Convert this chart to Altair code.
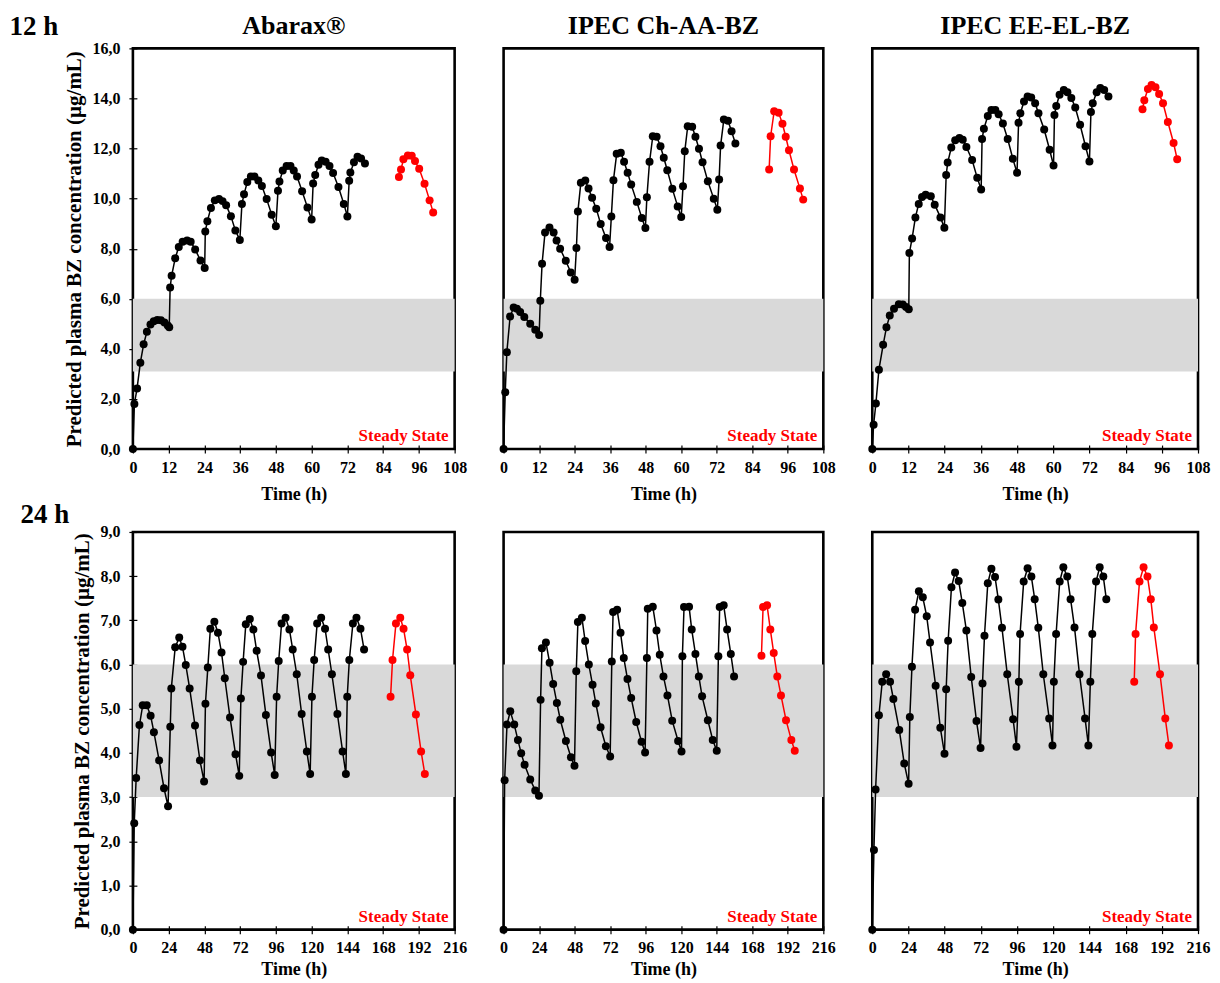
import altair as alt
import pandas as pd

FONT = "Liberation Serif"
Y_TITLE = "Predicted plasma BZ concentration (µg/mL)"
X_TITLE = "Time (h)"
SS_LABEL = "Steady State"
COL_TITLES = ["Abarax®", "IPEC Ch-AA-BZ", "IPEC EE-EL-BZ"]
ROW_LABELS = ["12 h", "24 h"]

X_TICKS_12 = [0, 12, 24, 36, 48, 60, 72, 84, 96, 108]
X_TICKS_24 = [0, 24, 48, 72, 96, 120, 144, 168, 192, 216]
Y_TICKS_12 = [0, 2, 4, 6, 8, 10, 12, 14, 16]
Y_TICKS_24 = [0, 1, 2, 3, 4, 5, 6, 7, 8, 9]
BAND_12 = [3.1, 6.0]
BAND_24 = [3.0, 6.0]

# ---------------- 12 h : Abarax ----------------
A12_T = [0, 0.5, 1.4, 2.5, 3.6, 4.7, 5.9, 7.0, 8.2, 9.4, 10.6, 11.7, 12.2,
         12.5, 13.0, 14.2, 15.4, 16.7, 18.2, 19.4, 20.9, 22.7, 24.1,
         24.3, 25.0, 26.2, 27.5, 28.9, 30.1, 31.3, 32.9, 34.4, 35.9,
         36.6, 37.3, 38.4, 39.6, 40.8, 42.1, 43.3, 44.9, 46.6, 48.0,
         48.7, 49.2, 50.3, 51.6, 52.9, 54.0, 55.1, 56.8, 58.6, 60.0,
         60.5, 61.2, 62.3, 63.4, 64.7, 66.0, 67.2, 69.0, 70.8, 72.0,
         72.6, 73.0, 74.2, 75.4, 76.6, 77.9]
A12_C = [0, 1.80, 2.42, 3.45, 4.18, 4.68, 4.97, 5.10, 5.15, 5.14, 5.05, 4.93, 4.86,
         6.45, 6.92, 7.62, 8.07, 8.28, 8.33, 8.28, 7.97, 7.53, 7.23,
         8.69, 9.10, 9.63, 9.93, 9.98, 9.90, 9.74, 9.30, 8.73, 8.35,
         9.79, 10.17, 10.66, 10.88, 10.88, 10.72, 10.50, 9.98, 9.36, 8.90,
         10.31, 10.68, 11.12, 11.30, 11.30, 11.12, 10.88, 10.29, 9.65, 9.17,
         10.60, 10.94, 11.35, 11.52, 11.47, 11.30, 11.02, 10.46, 9.79, 9.29,
         10.71, 11.04, 11.45, 11.67, 11.60, 11.40]
A12_SS_T = [89.3, 90.0, 90.8, 92.3, 93.6, 94.7, 96.1, 97.9, 99.6, 100.8]
A12_SS_C = [10.86, 11.16, 11.57, 11.72, 11.71, 11.50, 11.19, 10.59, 9.93, 9.45]

# ---------------- 12 h : IPEC Ch-AA-BZ ----------------
C12_T = [0, 0.56, 1.1, 2.2, 3.4, 4.5, 5.6, 7.0, 9.0, 10.7, 12.0,
         12.4, 13.0, 14.0, 15.5, 16.9, 17.9, 19.1, 21.0, 22.7, 24.0,
         24.6, 25.1, 26.1, 27.6, 28.7, 29.9, 31.3, 32.8, 34.6, 35.8,
         36.4, 37.1, 38.2, 39.6, 40.7, 41.9, 43.1, 45.0, 46.7, 47.9,
         48.4, 49.3, 50.4, 51.7, 53.0, 54.1, 55.3, 57.0, 58.8, 60.0,
         60.6, 61.2, 62.2, 63.7, 64.8, 66.0, 67.2, 69.0, 71.0, 72.2,
         72.8, 73.3, 74.4, 75.8, 77.0, 78.3]
C12_C = [0, 2.27, 3.87, 5.29, 5.65, 5.60, 5.47, 5.27, 5.00, 4.76, 4.55,
         5.92, 7.40, 8.65, 8.85, 8.65, 8.33, 8.00, 7.52, 7.05, 6.76,
         8.03, 9.49, 10.63, 10.72, 10.40, 10.03, 9.60, 8.99, 8.43, 8.07,
         9.29, 10.73, 11.79, 11.83, 11.47, 11.03, 10.56, 9.87, 9.23, 8.83,
         10.05, 11.47, 12.49, 12.47, 12.09, 11.63, 11.13, 10.39, 9.69, 9.27,
         10.49, 11.89, 12.89, 12.87, 12.47, 11.99, 11.45, 10.69, 9.99, 9.56,
         10.76, 12.12, 13.16, 13.11, 12.69, 12.20]
C12_SS_T = [89.7, 90.2, 91.4, 92.9, 94.2, 95.3, 96.4, 98.1, 100.1, 101.2]
C12_SS_C = [11.16, 12.49, 13.49, 13.43, 12.99, 12.47, 11.93, 11.16, 10.40, 9.96]

# ---------------- 12 h : IPEC EE-EL-BZ ----------------
E12_T = [0, 0.44, 1.2, 2.2, 3.6, 4.7, 5.8, 7.2, 8.8, 10.1, 11.2, 12.1,
         12.3, 13.2, 14.3, 15.4, 16.5, 17.7, 19.4, 20.7, 22.6, 23.9,
         24.5, 25.0, 26.2, 27.5, 28.9, 30.0, 31.2, 33.1, 34.8, 36.1,
         36.4, 37.0, 38.3, 39.5, 40.8, 41.9, 43.3, 44.9, 46.6, 48.0,
         48.5, 49.1, 50.3, 51.5, 52.7, 54.0, 55.1, 57.0, 58.8, 60.1,
         60.4, 61.0, 62.1, 63.5, 64.7, 66.0, 67.3, 68.9, 70.7, 72.0,
         72.5, 73.1, 74.4, 75.6, 76.9, 78.3]
E12_C = [0, 0.97, 1.82, 3.17, 4.16, 4.86, 5.33, 5.60, 5.78, 5.77, 5.67, 5.58,
         7.83, 8.41, 9.25, 9.79, 10.06, 10.15, 10.09, 9.76, 9.25, 8.84,
         10.94, 11.44, 12.04, 12.33, 12.42, 12.35, 12.06, 11.54, 10.83, 10.36,
         12.38, 12.79, 13.30, 13.54, 13.54, 13.37, 13.00, 12.38, 11.59, 11.03,
         13.03, 13.41, 13.88, 14.08, 14.04, 13.81, 13.41, 12.76, 11.95, 11.32,
         13.34, 13.70, 14.15, 14.34, 14.25, 14.02, 13.64, 12.95, 12.09, 11.48,
         13.46, 13.81, 14.25, 14.42, 14.34, 14.08]
E12_SS_T = [89.6, 90.2, 91.4, 92.6, 93.9, 95.1, 96.4, 98.0, 99.9, 101.1]
E12_SS_C = [13.57, 13.93, 14.38, 14.54, 14.45, 14.18, 13.81, 13.06, 12.22, 11.57]

# ---------------- 24 h : Abarax ----------------
A24_T = [0, 0.9, 2.2, 4.4, 6.6, 9.3, 11.9, 14.1, 17.6, 20.9, 23.6,
         25.1, 25.8, 28.4, 31.1, 33.3, 35.5, 38.1, 41.7, 45.0, 47.8,
         48.7, 50.3, 52.0, 54.7, 57.1, 59.5, 61.7, 65.2, 68.9, 71.4,
         72.5, 74.0, 75.8, 78.5, 80.9, 83.1, 86.0, 89.3, 92.8, 95.2,
         96.5, 97.9, 99.8, 102.5, 105.1, 107.3, 110.0, 113.3, 116.8, 119.0,
         120.2, 121.7, 123.7, 126.4, 129.0, 131.1, 133.6, 137.3, 140.8, 143.0,
         143.9, 145.3, 147.7, 150.1, 152.8, 155.2]
A24_C = [0, 2.41, 3.43, 4.63, 5.08, 5.08, 4.84, 4.47, 3.83, 3.20, 2.79,
         4.59, 5.46, 6.39, 6.61, 6.40, 5.99, 5.46, 4.62, 3.83, 3.35,
         5.11, 5.93, 6.81, 6.97, 6.72, 6.27, 5.69, 4.80, 3.97, 3.48,
         5.23, 6.06, 6.91, 7.03, 6.79, 6.31, 5.75, 4.86, 4.01, 3.50,
         5.27, 6.08, 6.93, 7.06, 6.79, 6.34, 5.78, 4.88, 4.03, 3.52,
         5.27, 6.10, 6.93, 7.06, 6.81, 6.34, 5.78, 4.88, 4.03, 3.52,
         5.27, 6.10, 6.93, 7.06, 6.81, 6.34]
A24_SS_T = [173.0, 174.3, 176.6, 179.5, 181.7, 184.1, 186.2, 190.0, 193.5, 196.0]
A24_SS_C = [5.27, 6.10, 6.93, 7.06, 6.81, 6.34, 5.76, 4.87, 4.03, 3.52]

# ---------------- 24 h : IPEC Ch-AA-BZ ----------------
C24_T = [0, 0.7, 2.3, 4.5, 7.2, 9.7, 11.9, 14.2, 18.0, 21.4, 23.9,
         25.0, 25.9, 28.6, 31.1, 33.5, 36.0, 38.3, 42.1, 45.5, 47.9,
         49.1, 50.2, 52.9, 55.1, 57.6, 60.1, 62.3, 65.5, 69.1, 72.0,
         73.1, 74.0, 76.7, 79.0, 81.2, 83.7, 86.2, 89.6, 93.2, 95.6,
         96.8, 97.4, 100.8, 103.3, 105.5, 108.0, 110.7, 113.9, 117.9, 120.2,
         120.8, 121.9, 125.3, 127.1, 129.6, 131.9, 134.1, 138.0, 141.3, 144.0,
         145.1, 146.0, 148.7, 151.0, 153.5, 155.7]
C24_C = [0, 3.38, 4.64, 4.94, 4.64, 4.29, 3.99, 3.73, 3.40, 3.15, 3.03,
         5.20, 6.37, 6.50, 6.04, 5.56, 5.13, 4.75, 4.27, 3.90, 3.71,
         5.85, 6.96, 7.06, 6.53, 6.00, 5.54, 5.12, 4.58, 4.15, 3.92,
         6.07, 7.19, 7.24, 6.72, 6.15, 5.67, 5.24, 4.70, 4.25, 4.01,
         6.15, 7.26, 7.31, 6.77, 6.22, 5.73, 5.30, 4.73, 4.27, 4.03,
         6.19, 7.30, 7.31, 6.79, 6.24, 5.73, 5.28, 4.74, 4.29, 4.05,
         6.19, 7.30, 7.34, 6.79, 6.24, 5.73]
C24_SS_T = [174.2, 175.3, 178.0, 180.2, 182.5, 184.9, 187.4, 190.8, 194.4, 196.7]
C24_SS_C = [6.20, 7.30, 7.34, 6.79, 6.26, 5.73, 5.30, 4.74, 4.29, 4.05]

# ---------------- 24 h : IPEC EE-EL-BZ ----------------
E24_T = [0, 1.1, 2.2, 4.4, 6.6, 9.2, 11.8, 14.0, 17.9, 21.2, 24.1,
         24.9, 26.3, 28.4, 30.9, 33.5, 36.1, 38.3, 42.0, 45.1, 47.9,
         49.0, 50.3, 52.5, 54.9, 57.3, 59.7, 62.4, 65.6, 69.1, 71.8,
         73.1, 74.4, 76.6, 79.0, 81.4, 83.6, 86.0, 89.5, 93.4, 95.6,
         97.2, 98.0, 100.4, 103.0, 105.5, 107.7, 110.1, 113.4, 117.3, 119.5,
         120.4, 121.9, 124.3, 126.7, 129.3, 131.5, 134.1, 137.4, 141.1, 143.3,
         144.6, 145.9, 148.4, 150.8, 153.2, 155.2]
E24_C = [0, 1.80, 3.17, 4.85, 5.61, 5.78, 5.61, 5.22, 4.52, 3.76, 3.30,
         4.81, 5.95, 7.24, 7.66, 7.52, 7.09, 6.50, 5.52, 4.57, 3.98,
         5.44, 6.54, 7.75, 8.08, 7.89, 7.39, 6.77, 5.72, 4.72, 4.11,
         5.57, 6.65, 7.84, 8.17, 7.98, 7.47, 6.83, 5.78, 4.76, 4.14,
         5.61, 6.69, 7.88, 8.18, 7.99, 7.48, 6.83, 5.78, 4.78, 4.17,
         5.61, 6.69, 7.88, 8.20, 7.99, 7.48, 6.84, 5.78, 4.78, 4.17,
         5.61, 6.69, 7.88, 8.20, 7.99, 7.48]
E24_SS_T = [173.7, 174.6, 177.2, 179.9, 182.5, 184.7, 186.7, 190.8, 194.3, 196.7]
E24_SS_C = [5.61, 6.69, 7.88, 8.20, 7.99, 7.48, 6.84, 5.78, 4.78, 4.17]

LABEL_EXPR = "replace(format(datum.value, '.1f'), '.', ',')"


def label_layer(text, size, color, x, y, align="center", baseline="middle"):
    return alt.Chart(pd.DataFrame({"lab": [text]})).mark_text(
        font=FONT, fontSize=size, fontWeight="bold", color=color,
        align=align, baseline=baseline).encode(
        x=alt.value(x), y=alt.value(y), text="lab:N")


def panel(t, c, st, sc, band, xticks, yticks, w, h, show_y,
          title=None, row_label=None, row_pos=(0, 0), xtitle_pad=11):
    xmax = xticks[-1]
    ymax = yticks[-1]
    black = pd.DataFrame({"t": t, "c": c})
    red = pd.DataFrame({"t": st, "c": sc})
    bandf = pd.DataFrame({"x0": [xticks[0]], "x1": [xmax],
                          "y0": [band[0]], "y1": [band[1]]})
    xs = alt.Scale(domain=[0, xmax], nice=False)
    ys = alt.Scale(domain=[0, ymax], nice=False)
    xaxis = alt.Axis(values=xticks, title=X_TITLE, offset=-4, tickSize=8,
                     tickWidth=1.2, domain=False, labelPadding=6,
                     titlePadding=xtitle_pad, titleFontSize=18, grid=False,
                     labelFlush=False)
    if show_y:
        yaxis = alt.Axis(values=yticks, title=Y_TITLE, labelExpr=LABEL_EXPR,
                         offset=-4, tickSize=8, tickWidth=1.2, domain=False,
                         labelPadding=9, titlePadding=7, titleFontSize=21,
                         grid=False, labelFlush=False)
    else:
        yaxis = None

    def X(f):
        return alt.X(f, type="quantitative", scale=xs, axis=xaxis)

    def Y(f):
        return alt.Y(f, type="quantitative", scale=ys, axis=yaxis)

    layers = [
        alt.Chart(bandf).mark_rect(color="#d9d9d9").encode(
            x=X("x0"), x2="x1", y=Y("y0"), y2="y1"),
        alt.Chart(black).mark_line(color="black", strokeWidth=1.5).encode(
            x=X("t"), y=Y("c")),
        alt.Chart(black).mark_circle(color="black", size=64, opacity=1).encode(
            x=X("t"), y=Y("c")),
        alt.Chart(red).mark_line(color="#ff0000", strokeWidth=1.5).encode(
            x=X("t"), y=Y("c")),
        alt.Chart(red).mark_circle(color="#ff0000", size=64, opacity=1).encode(
            x=X("t"), y=Y("c")),
        label_layer(SS_LABEL, 17, "#ff0000", w - 6, h - 4, "right", "bottom"),
    ]
    if title is not None:
        layers.append(label_layer(title, 26, "black", w / 2, -22))
    if row_label is not None:
        layers.append(label_layer(row_label, 27, "black", row_pos[0], row_pos[1]))
    return alt.layer(*layers).properties(width=w, height=h)


p1 = panel(A12_T, A12_C, A12_SS_T, A12_SS_C, BAND_12, X_TICKS_12, Y_TICKS_12,
           322, 401, True, COL_TITLES[0], ROW_LABELS[0], (-99, -21))
p2 = panel(C12_T, C12_C, C12_SS_T, C12_SS_C, BAND_12, X_TICKS_12, Y_TICKS_12,
           320, 401, False, COL_TITLES[1])
p3 = panel(E12_T, E12_C, E12_SS_T, E12_SS_C, BAND_12, X_TICKS_12, Y_TICKS_12,
           326, 401, False, COL_TITLES[2])
p4 = panel(A24_T, A24_C, A24_SS_T, A24_SS_C, BAND_24, X_TICKS_24, Y_TICKS_24,
           322, 398, True, None, ROW_LABELS[1], (-88, -17), xtitle_pad=5)
p5 = panel(C24_T, C24_C, C24_SS_T, C24_SS_C, BAND_24, X_TICKS_24, Y_TICKS_24,
           320, 398, False, xtitle_pad=5)
p6 = panel(E24_T, E24_C, E24_SS_T, E24_SS_C, BAND_24, X_TICKS_24, Y_TICKS_24,
           326, 398, False, xtitle_pad=5)

chart = alt.concat(
    p1, p2, p3, p4, p5, p6, columns=3, bounds="flush",
    spacing={"row": 83, "column": 49}
).configure(
    background="white", padding={"left": 0, "top": 3, "right": 0, "bottom": 0}
).configure_view(
    stroke="black", strokeWidth=2.6
).configure_axis(
    labelFont=FONT, labelFontSize=16, labelFontWeight="bold", labelColor="black",
    titleFont=FONT, titleFontWeight="bold", titleColor="black",
    tickColor="black"
)

chart.save("out.html", embed_options={"renderer": "svg", "actions": False})
